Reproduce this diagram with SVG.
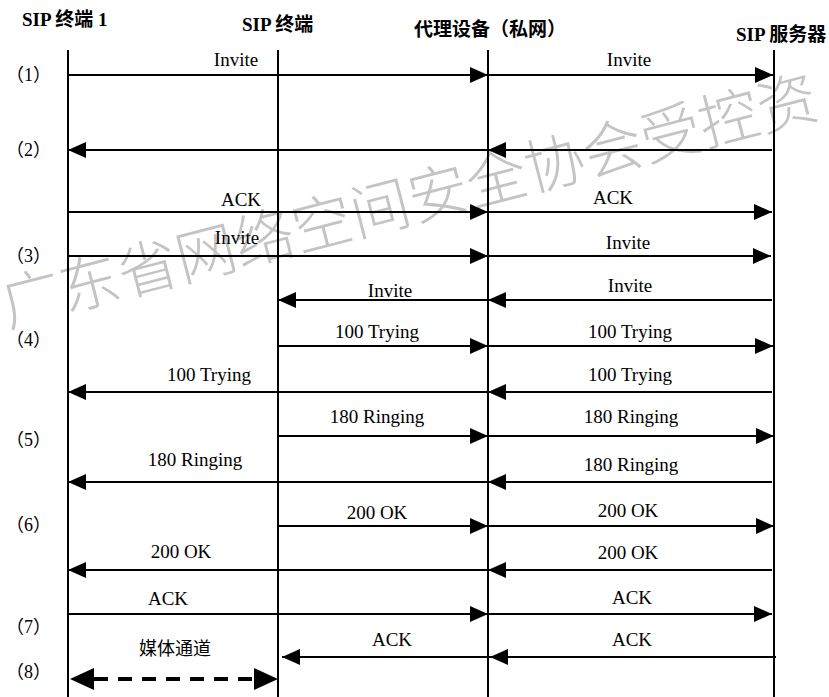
<svg xmlns="http://www.w3.org/2000/svg" width="829" height="697" viewBox="0 0 829 697">
<style>
.hd{font-family:"Liberation Serif","Noto Sans CJK SC",serif;font-size:19px;font-weight:bold;fill:#000}
.lb{font-family:"Liberation Serif","Noto Sans CJK SC",serif;font-size:19px;fill:#000;text-anchor:middle}
.rn{font-family:"Liberation Serif","Noto Sans CJK SC",serif;font-size:18px;fill:#000}
.ll{stroke:#000;stroke-width:2;fill:none}
.ar{stroke:#000;stroke-width:2;fill:none;marker-end:url(#ah)}
.wm{font-family:"Noto Sans CJK SC",sans-serif;font-size:60px;font-weight:300;fill:#c4c4c4}
</style>
<defs>
<marker id="ah" viewBox="0 0 18 16" refX="18" refY="8" markerWidth="18" markerHeight="16" orient="auto" markerUnits="userSpaceOnUse">
<path d="M0,0 L18,8 L0,16 z" fill="#000"/>
</marker>
</defs>
<rect width="829" height="697" fill="#fff"/>
<text class="wm" x="8" y="327" transform="rotate(-14.5 8 327)">广东省网络空间安全协会受控资</text>

<g id="n1"><text class="hd" x="22" y="26">SIP 终端 1</text><line class="ll" x1="68" y1="50" x2="68" y2="697"/></g>
<g id="n2"><text class="hd" x="242" y="31">SIP 终端</text><line class="ll" x1="278" y1="50" x2="278" y2="697"/></g>
<g id="n3"><text class="hd" x="414" y="36">代理设备（私网）</text><line class="ll" x1="488" y1="50" x2="488" y2="697"/></g>
<g id="n4"><text class="hd" x="736" y="41">SIP 服务器</text><line class="ll" x1="774" y1="50" x2="774" y2="697"/></g>

<g id="steps">
<text class="rn" x="6" y="81">（1）</text>
<text class="rn" x="6" y="156">（2）</text>
<text class="rn" x="6" y="262">（3）</text>
<text class="rn" x="6" y="346">（4）</text>
<text class="rn" x="6" y="446">（5）</text>
<text class="rn" x="6" y="531">（6）</text>
<text class="rn" x="6" y="633">（7）</text>
<text class="rn" x="6" y="678">（8）</text>
</g>

<g id="connectors">
<line class="ar" x1="68" y1="75" x2="488" y2="75"/>
<line class="ar" x1="488" y1="75" x2="773" y2="75"/>
<text class="lb" x="236" y="66">Invite</text>
<text class="lb" x="629" y="66">Invite</text>

<line class="ar" x1="772" y1="150" x2="488" y2="150"/>
<line class="ar" x1="488" y1="150" x2="68" y2="150"/>

<line class="ar" x1="68" y1="212" x2="488" y2="212"/>
<line class="ar" x1="488" y1="212" x2="772" y2="212"/>
<text class="lb" x="241" y="206">ACK</text>
<text class="lb" x="613" y="204">ACK</text>

<line class="ar" x1="68" y1="256" x2="488" y2="256"/>
<line class="ar" x1="488" y1="256" x2="771" y2="256"/>
<text class="lb" x="237" y="244">Invite</text>
<text class="lb" x="628" y="249">Invite</text>

<line class="ar" x1="772" y1="300" x2="488" y2="300"/>
<line class="ar" x1="488" y1="300" x2="278" y2="300"/>
<text class="lb" x="390" y="297">Invite</text>
<text class="lb" x="630" y="292">Invite</text>

<line class="ar" x1="278" y1="346" x2="488" y2="346"/>
<line class="ar" x1="488" y1="346" x2="773" y2="346"/>
<text class="lb" x="377" y="338">100 Trying</text>
<text class="lb" x="630" y="338">100 Trying</text>

<line class="ar" x1="772" y1="392" x2="488" y2="392"/>
<line class="ar" x1="488" y1="392" x2="68" y2="392"/>
<text class="lb" x="209" y="381">100 Trying</text>
<text class="lb" x="630" y="381">100 Trying</text>

<line class="ar" x1="278" y1="436" x2="488" y2="436"/>
<line class="ar" x1="488" y1="436" x2="774" y2="436"/>
<text class="lb" x="377" y="423">180 Ringing</text>
<text class="lb" x="631" y="423">180 Ringing</text>

<line class="ar" x1="772" y1="482" x2="488" y2="482"/>
<line class="ar" x1="488" y1="482" x2="68" y2="482"/>
<text class="lb" x="195" y="466">180 Ringing</text>
<text class="lb" x="631" y="471">180 Ringing</text>

<line class="ar" x1="278" y1="526" x2="488" y2="526"/>
<line class="ar" x1="488" y1="526" x2="774" y2="526"/>
<text class="lb" x="377" y="519">200 OK</text>
<text class="lb" x="628" y="517">200 OK</text>

<line class="ar" x1="772" y1="570" x2="488" y2="570"/>
<line class="ar" x1="488" y1="570" x2="68" y2="570"/>
<text class="lb" x="181" y="558">200 OK</text>
<text class="lb" x="628" y="559">200 OK</text>

<line class="ar" x1="68" y1="614" x2="488" y2="614"/>
<line class="ar" x1="488" y1="614" x2="772" y2="614"/>
<text class="lb" x="168" y="605">ACK</text>
<text class="lb" x="632" y="604">ACK</text>

<line class="ar" x1="776" y1="657" x2="490" y2="657"/>
<line class="ar" x1="490" y1="657" x2="282" y2="657"/>
<text class="lb" x="392" y="646">ACK</text>
<text class="lb" x="632" y="646">ACK</text>

<line x1="94" y1="679" x2="254" y2="679" stroke="#000" stroke-width="4" stroke-dasharray="14,10"/>
<path d="M70,679 L94,668 L94,690 z" fill="#000"/>
<path d="M278,679 L254,668 L254,690 z" fill="#000"/>
<text class="lb" x="175" y="655" style="font-family:'Noto Sans CJK SC',sans-serif;font-size:18px">媒体通道</text>
</g>
</svg>
